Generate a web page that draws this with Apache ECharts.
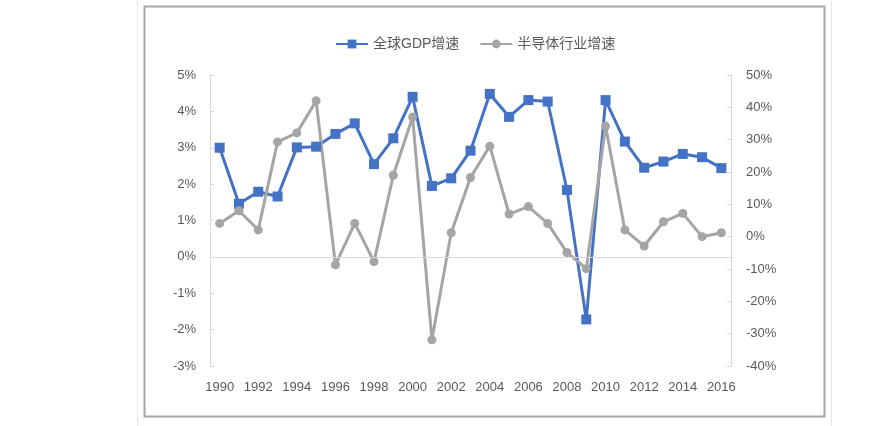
<!DOCTYPE html>
<html>
<head>
<meta charset="utf-8">
<script src="https://cdn.jsdelivr.net/npm/echarts@6/dist/echarts.min.js"></script>
<style>html,body{margin:0;padding:0;background:#fff}#c{width:893px;height:426px}</style>
</head>
<body>
<div id="c"></div>
<script>
var years = ['1990','1991','1992','1993','1994','1995','1996','1997','1998','1999','2000','2001','2002','2003','2004','2005','2006','2007','2008','2009','2010','2011','2012','2013','2014','2015','2016'];
var gdpGrowth = [3.0,1.46,1.79,1.66,3.01,3.03,3.38,3.67,2.55,3.26,4.40,1.95,2.16,2.92,4.48,3.85,4.31,4.27,1.84,-1.72,4.31,3.17,2.45,2.62,2.83,2.74,2.44];
var semiGrowth = [4.1,8.0,2.1,29.3,32.1,42.0,-8.7,4.1,-7.7,19.0,37.0,-31.9,1.2,18.3,28.0,7.0,9.3,4.1,-4.9,-9.9,34.2,2.1,-2.9,4.6,7.2,0.0,1.2];
var seriesNames = ['全球GDP增速','半导体行业增速'];

var chart = echarts.init(document.getElementById('c'), null, {renderer:'canvas'});
var font = '"Liberation Sans", "Noto Sans CJK SC", sans-serif';
chart.setOption({
  animation:false,
  backgroundColor:'#fff',
  graphic:[
    {type:'line', shape:{x1:137.5,y1:0,x2:137.5,y2:426}, style:{stroke:'#e6e6e6', lineWidth:1}},
    {type:'line', shape:{x1:831.5,y1:0,x2:831.5,y2:426}, style:{stroke:'#e6e6e6', lineWidth:1}},
    {type:'rect', shape:{x:144.5,y:6.5,width:680,height:410}, style:{fill:null, stroke:'#a6a6a6', lineWidth:2}}
  ],
  legend:{
    top:32, left:330,
    itemWidth:32, itemHeight:11, itemGap:20,
    textStyle:{fontFamily:font, fontSize:14, color:'#595959'},
    data:seriesNames
  },
  grid:{left:210, right:162, top:75, bottom:60},
  xAxis:{
    type:'category', data:years, boundaryGap:true,
    axisLine:{show:false}, axisTick:{show:false},
    axisLabel:{interval:1, margin:15, fontFamily:font, fontSize:13, color:'#595959'},
    splitLine:{show:false}
  },
  yAxis:[
    {type:'value', min:-3, max:5, interval:1, position:'left',
     axisLine:{show:true, lineStyle:{color:'#d9d9d9', width:1}},
     axisTick:{show:true, inside:true, length:4, lineStyle:{color:'#d9d9d9'}},
     axisLabel:{formatter:'{value}%', margin:14, fontFamily:font, fontSize:13, color:'#595959'},
     splitLine:{show:false}},
    {type:'value', min:-40, max:50, interval:10, position:'right',
     axisLine:{show:true, lineStyle:{color:'#d9d9d9', width:1}},
     axisTick:{show:true, inside:true, length:4, lineStyle:{color:'#d9d9d9'}},
     axisLabel:{formatter:'{value}%', margin:15, fontFamily:font, fontSize:13, color:'#595959'},
     splitLine:{show:false}}
  ],
  series:[
    {name:seriesNames[0], type:'line', yAxisIndex:0, data:gdpGrowth,
     symbol:'rect', symbolSize:10, showAllSymbol:true,
     lineStyle:{color:'#4472C4', width:3}, itemStyle:{color:'#4472C4'},
     markLine:{silent:true, symbol:['none','none'], label:{show:false},
       lineStyle:{color:'#d9d9d9', width:1, type:'solid'}, data:[{yAxis:0}]}},
    {name:seriesNames[1], type:'line', yAxisIndex:1, data:semiGrowth,
     symbol:'circle', symbolSize:9, showAllSymbol:true,
     lineStyle:{color:'#A5A5A5', width:3}, itemStyle:{color:'#A5A5A5'}}
  ]
});
</script>
</body>
</html>
